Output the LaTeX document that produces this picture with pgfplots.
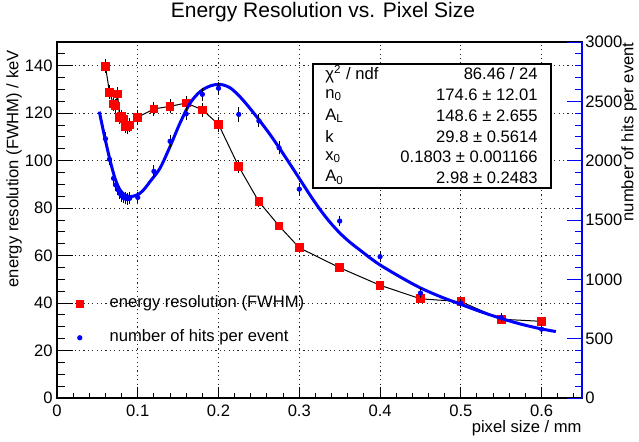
\documentclass[border=0pt]{standalone}
\usepackage{fontspec}
\setmainfont{Liberation Sans}
\usepackage{pgfplots}
\usepackage{pgfplotstable}
\pgfplotsset{compat=1.18}

\pgfplotstableread{
x y ey
0.06 139.8 2.0
0.065 128.8 2.0
0.07 123.8 2.0
0.0725 123.0 2.0
0.075 128.1 2.0
0.0775 118.3 2.0
0.08 118.5 2.0
0.0825 117.5 2.0
0.085 114.5 2.0
0.0875 114.2 2.0
0.09 115.0 2.0
0.1 118.3 2.0
0.12 121.8 2.0
0.14 122.9 2.0
0.16 124.3 2.0
0.18 121.4 2.0
0.2 115.3 2.0
0.225 97.5 1.7
0.25 82.7 1.0
0.275 72.5 0.8
0.3 63.3 0.8
0.35 54.9 0.6
0.4 47.5 0.6
0.45 41.8 0.6
0.5 40.6 0.6
0.55 33.2 0.6
0.6 32.3 0.6
}\redtab

\pgfplotstableread{
x y ey
0.06 2185 35
0.065 2011 30
0.07 1851 30
0.0725 1795 30
0.075 1757 30
0.0775 1725 30
0.08 1703 30
0.0825 1690 30
0.085 1683 30
0.0875 1680 30
0.09 1683 30
0.1 1690 30
0.12 1910 35
0.14 2163 35
0.16 2395 35
0.18 2559 35
0.2 2610 35
0.225 2390 40
0.25 2335 35
0.275 2109 35
0.3 1760 30
0.35 1491 25
0.4 1191 25
0.45 884 20
0.5 798 20
0.55 677 20
0.6 580 20
}\bluetab

\pgfplotstableread{
x y
0.0524 2413
0.0594 2188
0.0656 2006
0.0718 1851
0.0780 1753
0.0842 1711
0.0903 1697
0.0965 1705
0.1027 1725
0.1089 1767
0.1151 1823
0.1275 1936
0.1399 2118
0.1522 2315
0.1646 2483
0.1770 2581
0.1894 2629
0.2017 2643
0.2141 2615
0.2265 2539
0.2389 2441
0.2512 2335
0.2636 2222
0.2760 2100
0.2884 1972
0.3007 1843
0.3131 1712
0.3255 1590
0.3379 1482
0.3502 1390
0.3626 1313
0.3750 1247
0.3874 1182
0.3998 1122
0.4245 1022
0.4493 930
0.4740 856
0.4988 792
0.5235 730
0.5483 674
0.5730 625
0.5978 585
0.6176 560
}\fittab

\newcommand{\rf}{\fontsize{8.3}{10}\selectfont}

\pgfplotsset{
  base/.style={
    width=262.5pt, height=178pt, scale only axis,
    xmin=0, xmax=0.65,
    tick align=inside,
    scaled ticks=false,
    /pgf/number format/assume math mode=true,
    /pgf/number format/1000 sep={},
    tick label style={font=\rf},
    label style={font=\rf},
    axis line style={line width=0.6pt},
    every tick/.style={line width=0.5pt},
    major grid style={black!85, line width=0.5pt, dash pattern=on 0.6pt off 1.6pt},
  }
}

\begin{document}
\begin{tikzpicture}
\useasboundingbox (-28.5pt,-21.5pt) rectangle (291pt,199pt);

% axis A: left y axis, y grid
\begin{axis}[base,
  ymin=0, ymax=150,
  xtick=\empty,
  ytick={0,20,40,60,80,100,120,140},
  minor ytick={5,10,15,25,30,35,45,50,55,65,70,75,85,90,95,105,110,115,125,130,135,145},
  ytick pos=left,
  ymajorgrids,
  major tick length=7.9pt, minor tick length=3.9pt,
  yticklabel style={inner sep=2pt},
  ylabel={energy resolution (FWHM) / keV},
  ylabel style={at={(axis description cs:-0.0819,0.978)}, anchor=east, inner sep=0pt},
]
\end{axis}

% axis B: x axis, x grid, red data
\begin{axis}[base,
  ymin=0, ymax=150,
  ytick=\empty,
  xtick={0,0.1,0.2,0.3,0.4,0.5,0.6},
  minor xtick={0.02,0.04,0.06,0.08,0.12,0.14,0.16,0.18,0.22,0.24,0.26,0.28,0.32,0.34,0.36,0.38,0.42,0.44,0.46,0.48,0.52,0.54,0.56,0.58,0.62,0.64},
  xtick pos=bottom,
  xmajorgrids,
  major tick length=5.3pt, minor tick length=2.7pt,
  xticklabel style={/pgf/number format/fixed, /pgf/number format/precision=2},
  xlabel={pixel size / mm},
  xlabel style={at={(axis description cs:1,-0.0843)}, anchor=east, inner sep=0pt},
  title={Energy Resolution vs. Pixel Size},
  every axis title shift=0pt,
  title style={at={(axis description cs:0.5067,1)}, anchor=center, yshift=15pt, font=\fontsize{10.5}{12}\selectfont},
]
\addplot[black, line width=0.5pt, mark=square*, mark size=1.9pt,
  mark options={red, draw=red, solid},
  error bars/.cd, y dir=both, y explicit,
  error bar style={black, line width=0.5pt},
  error mark options={black, mark size=1.2pt, line width=0.5pt}]
  table[x=x, y=y, y error=ey]{\redtab};
\end{axis}

% axis C: right y axis, blue data
\begin{axis}[base,
  ymin=0, ymax=3000,
  axis x line=none,
  axis y line*=right,
  y axis line style={blue, line width=0.6pt},
  ytick={0,500,1000,1500,2000,2500,3000},
  minor ytick={100,200,300,400,600,700,800,900,1100,1200,1300,1400,1600,1700,1800,1900,2100,2200,2300,2400,2600,2700,2800,2900},
  ytick style={blue},
  yticklabel style={black, inner sep=1.5pt},
  major tick length=7.5pt, minor tick length=3.7pt,
  ylabel={number of hits per event},
  ylabel style={at={(axis description cs:1.0895,1.0)}, anchor=east, inner sep=0pt},
  legend style={at={(rel axis cs:0.0362,0.2978)}, anchor=north west, draw=none, fill=none,
    inner sep=0pt, outer sep=0pt, column sep=11pt, row sep=5.2pt,
    nodes={font=\rf, text height=6pt, text depth=1.8pt, inner sep=2pt}},
  legend cell align=left,
  legend image code/.code={\draw[#1] plot coordinates {(0pt,0pt)};},
]
\addlegendimage{only marks, mark=square*, mark size=1.9pt, red}
\addlegendentry{energy resolution (FWHM)}
\addplot[blue, line width=1.5pt, smooth, no marks, forget plot] table[x=x, y=y]{\fittab};
\addplot[only marks, mark=*, mark size=1.1pt, blue,
  error bars/.cd, y dir=both, y explicit,
  error bar style={black, line width=0.5pt},
  error mark options={black, mark size=1.2pt, line width=0.5pt}]
  table[x=x, y=y, y error=ey]{\bluetab};
\addlegendentry{number of hits per event}

\draw[black, line width=0.6pt, fill=white] (rel axis cs:0.4876,0.590) rectangle (rel axis cs:0.941,0.938);
\begin{scope}[every node/.style={font=\rf, inner sep=0pt}]
\node[anchor=west] at (rel axis cs:0.5105,0.910) {χ\textsuperscript{2} / ndf};
\node[anchor=west] at (rel axis cs:0.5105,0.851) {n\textsubscript{0}};
\node[anchor=west] at (rel axis cs:0.5105,0.793) {A\textsubscript{L}};
\node[anchor=west] at (rel axis cs:0.5105,0.735) {k};
\node[anchor=west] at (rel axis cs:0.5105,0.677) {x\textsubscript{0}};
\node[anchor=west] at (rel axis cs:0.5105,0.619) {A\textsubscript{0}};
\node[anchor=east] at (rel axis cs:0.9162,0.910) {86.46 / 24};
\node[anchor=east] at (rel axis cs:0.9162,0.851) {174.6 ± 12.01};
\node[anchor=east] at (rel axis cs:0.9162,0.793) {148.6 ± 2.655};
\node[anchor=east] at (rel axis cs:0.9162,0.735) {29.8 ± 0.5614};
\node[anchor=east] at (rel axis cs:0.9162,0.677) {0.1803 ± 0.001166};
\node[anchor=east] at (rel axis cs:0.9162,0.619) {2.98 ± 0.2483};
\end{scope}
\end{axis}
\end{tikzpicture}
\end{document}
